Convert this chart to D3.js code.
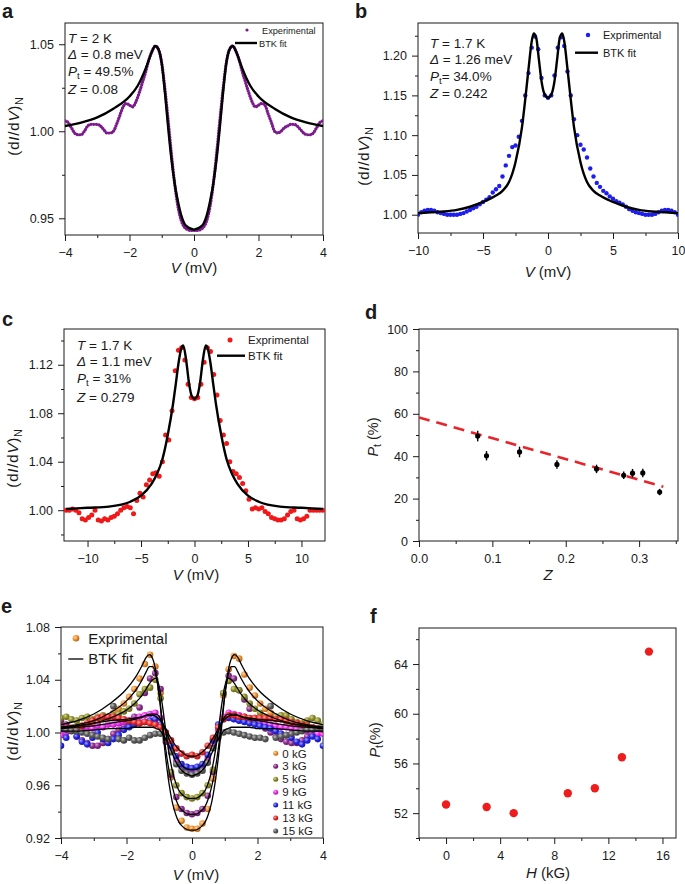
<!DOCTYPE html>
<html>
<head>
<meta charset="utf-8">
<script src="https://cdn.jsdelivr.net/npm/d3@7"></script>
<style>
  body { margin: 0; background: #fff; }
  svg text { font-family: "Liberation Sans", Arial, sans-serif; fill: #1a1a1a; }
</style>
</head>
<body>
<svg id="fig" width="685" height="884"></svg>
<script>
// ---------- data ----------
// panel a : V from -4 to 4, step 0.1
const aStart = -4, aStep = 0.1;
const aExp = [1.006,1.005,1.002,0.999,0.998,0.998,1.000,1.003,1.004,1.004,
  1.004,1.003,1.001,0.999,0.999,1.000,1.004,1.009,1.014,1.016,
  1.015,1.014,1.017,1.022,1.028,1.034,1.041,1.046,1.049,1.047,
  1.039,1.024,1.006,0.987,0.970,0.957,0.949,0.945,0.9435,0.943,
  0.943,
  0.943,0.9435,0.945,0.949,0.957,0.970,0.987,1.006,1.024,1.039,
  1.047,1.049,1.046,1.041,1.034,1.028,1.022,1.017,1.014,1.015,
  1.016,1.015,1.010,1.005,1.000,0.999,1.000,1.002,1.003,1.004,
  1.004,1.003,1.001,0.999,0.998,0.998,0.999,1.002,1.005,1.006];
const fitV4 = [-4,-3.5,-3,-2.5,-2,-1.75,-1.5,-1.4,-1.3,-1.2,-1.1,-1,-0.9,-0.8,-0.7,-0.6,-0.5,-0.4,-0.3,-0.2,-0.1,0,
  0.1,0.2,0.3,0.4,0.5,0.6,0.7,0.8,0.9,1,1.1,1.2,1.3,1.4,1.5,1.75,2,2.5,3,3.5,4];
const aFit = [1.003,1.005,1.008,1.013,1.020,1.026,1.036,1.041,1.046,1.049,1.047,1.039,1.022,1.002,0.984,0.970,0.960,0.952,0.947,0.945,0.944,
  0.9435,
  0.944,0.945,0.947,0.952,0.960,0.970,0.984,1.002,1.022,1.039,1.047,1.049,1.046,1.041,1.036,1.026,1.020,1.013,1.008,1.005,1.003];

// panel b : V from -10 to 10, step 0.25
const bStart = -10, bStep = 0.25;
const bExp = [1.000,1.003,1.005,1.006,1.006,1.005,1.003,1.002,1.001,1.000,
  1.000,1.000,1.000,1.001,1.002,1.004,1.006,1.008,1.010,1.013,
  1.016,1.019,1.022,1.028,1.032,1.036,1.048,1.062,1.074,1.085,
  1.087,1.098,1.118,1.150,1.178,1.210,1.224,1.208,1.172,1.150,
  1.147,
  1.150,1.175,1.210,1.223,1.212,1.180,1.150,1.120,1.100,1.088,
  1.082,1.072,1.058,1.048,1.040,1.035,1.030,1.027,1.023,1.020,
  1.017,1.015,1.013,1.010,1.007,1.005,1.003,1.002,1.001,1.000,
  1.000,1.000,1.001,1.003,1.005,1.006,1.006,1.005,1.003,1.000];
const bFitV = [-10,-9,-8,-7,-6,-5,-4,-3.5,-3,-2.5,-2,-1.75,-1.5,-1.25,-1.1,-0.9,-0.7,-0.5,-0.3,0,
  0.3,0.5,0.7,0.9,1.1,1.25,1.5,1.75,2,2.5,3,3.5,4,5,6,7,8,9,10];
const bFit = [1.002,1.003,1.004,1.006,1.010,1.016,1.024,1.030,1.041,1.066,1.110,1.145,1.183,1.218,1.228,1.222,1.195,1.168,1.153,
  1.147,
  1.153,1.168,1.195,1.222,1.228,1.218,1.183,1.145,1.110,1.066,1.041,1.030,1.024,1.016,1.010,1.006,1.004,1.003,1.002];

// panel c : V from -12 to 12, step 0.3
const cStart = -12, cStep = 0.3;
const cExp = [1.000,1.000,1.001,1.000,0.998,0.993,0.992,0.994,0.996,1.000,
  0.992,0.991,0.993,0.992,0.994,0.995,0.997,1.000,1.002,1.003,
  1.002,0.997,1.008,1.014,1.011,1.021,1.025,1.030,1.031,1.028,
  1.040,1.062,1.058,1.082,1.115,1.132,1.134,1.124,1.104,1.093,
  1.092,
  1.093,1.104,1.122,1.134,1.131,1.112,1.095,1.074,1.062,1.055,
  1.040,1.032,1.030,1.027,1.022,1.016,1.009,1.001,1.002,1.001,
  1.002,0.999,0.997,0.994,0.993,0.992,0.992,0.993,0.996,0.999,
  1.000,0.993,0.992,0.993,0.995,1.000,1.000,1.000,1.000,1.000];
const cFitV = [-12,-10,-8,-6,-5,-4,-3.5,-3,-2.5,-2,-1.75,-1.5,-1.25,-1.05,-0.8,-0.5,-0.25,0,
  0.25,0.5,0.8,1.05,1.25,1.5,1.75,2,2.5,3,3.5,4,5,6,8,10,12];
const cFit = [1.001,1.002,1.003,1.007,1.012,1.022,1.030,1.042,1.062,1.088,1.104,1.121,1.133,1.136,1.125,1.104,1.094,
  1.092,
  1.094,1.104,1.125,1.136,1.133,1.121,1.104,1.088,1.062,1.042,1.030,1.022,1.012,1.007,1.003,1.002,1.001];

// panel d
const dZ = [0.080, 0.092, 0.137, 0.188, 0.242, 0.279, 0.291, 0.305, 0.328];
const dP = [49.5, 40.2, 42.0, 36.1, 34.0, 31.0, 32.0, 32.1, 23.1];
const dErr = [2.5, 2.2, 2.5, 2.0, 2.0, 1.8, 2.0, 2.0, 1.5];
const dFitZ = [0, 0.333];
const dFitP = [58.3, 25.6];

// panel e : V from -4 to 4, step 0.16
const eStart = -4, eStep = 0.16;
const eFields = ["0 kG", "3 kG", "5 kG", "9 kG", "11 kG", "13 kG", "15 kG"];
const eColors = ["#f3922c", "#8e2a8e", "#8f8f22", "#ee2cee", "#2424ee", "#ee2424", "#5a5a5a"];
const e0 = [1.002,1.003,1.004,1.004,1.005,1.006,1.007,1.008,1.010,1.012,1.015,1.018,1.022,1.027,1.033,1.041,1.052,1.059,1.050,1.030,0.998,0.966,0.943,0.933,0.928,
  0.927,
  0.927,0.931,0.942,0.965,0.997,1.028,1.048,1.058,1.056,1.044,1.034,1.028,1.022,1.018,1.015,1.012,1.010,1.008,1.007,1.006,1.005,1.004,1.004,1.003,1.002];
const e3 = [1.009,1.006,1.002,0.997,0.994,0.992,0.990,0.990,0.992,0.995,0.999,1.002,1.005,1.008,1.012,1.019,1.030,1.041,1.045,1.033,0.993,0.968,0.951,0.942,0.939,
  0.938,
  0.939,0.942,0.952,0.970,0.996,1.030,1.043,1.041,1.032,1.025,1.018,1.011,1.006,1.003,1.000,0.997,0.995,0.993,0.992,0.992,0.994,0.997,1.000,1.003,1.002];
const e5 = [1.011,1.012,1.010,1.009,1.011,1.012,1.010,1.012,1.013,1.011,1.013,1.014,1.016,1.018,1.022,1.029,1.033,1.034,1.040,1.026,0.995,0.970,0.960,0.954,0.951,
  0.950,
  0.951,0.954,0.960,0.972,0.998,1.030,1.039,1.033,1.032,1.027,1.022,1.018,1.015,1.012,1.011,1.012,1.013,1.013,1.010,1.008,1.007,1.009,1.011,1.009,1.006];
const e9 = [0.998,1.000,1.002,1.001,1.003,1.004,1.003,1.005,1.004,1.006,1.006,1.007,1.008,1.009,1.010,1.012,1.013,1.014,1.015,1.011,1.000,0.988,0.979,0.974,0.972,
  0.972,
  0.972,0.974,0.980,0.990,1.002,1.012,1.015,1.014,1.013,1.012,1.010,1.009,1.008,1.007,1.006,1.005,1.004,1.004,1.003,1.002,1.002,1.001,1.000,0.999,0.999];
const e11 = [0.990,0.996,1.003,0.997,0.993,0.991,0.996,1.000,0.995,0.992,0.995,0.998,1.002,1.004,1.006,1.007,1.008,1.009,1.010,1.006,0.999,0.990,0.982,0.976,0.974,
  0.973,
  0.974,0.976,0.983,0.994,1.006,1.010,1.011,1.010,1.009,1.008,1.007,1.006,1.005,1.004,1.003,1.001,0.999,0.998,0.996,0.993,0.991,0.994,0.997,0.995,0.990];
const e13 = [1.004,1.003,1.002,1.003,1.005,1.007,1.009,1.011,1.012,1.012,1.012,1.011,1.010,1.009,1.008,1.007,1.008,1.007,1.006,1.004,1.000,0.994,0.988,0.984,0.982,
  0.983,
  0.982,0.985,0.990,0.996,1.004,1.010,1.013,1.013,1.012,1.012,1.011,1.011,1.011,1.011,1.011,1.010,1.010,1.009,1.008,1.007,1.006,1.005,1.004,1.003,1.002];
const e15 = [1.003,1.002,1.001,1.001,1.000,0.999,0.998,0.997,0.996,0.995,1.020,0.995,0.994,0.996,0.994,0.994,0.996,0.998,0.999,0.999,0.996,0.985,0.976,0.971,0.969,
  0.968,
  0.969,0.971,0.977,0.988,0.998,1.000,1.001,1.000,0.999,0.998,0.997,0.996,0.996,0.995,1.020,0.996,0.997,0.998,0.999,1.000,1.001,1.002,1.002,1.003,1.003];
const eFit0 = [1.006,1.009,1.014,1.022,1.033,1.041,1.052,1.057,1.059,1.056,1.046,1.028,1.003,0.980,0.961,0.947,0.938,0.932,0.929,0.927,0.926,
  0.926,
  0.926,0.927,0.929,0.932,0.938,0.947,0.961,0.980,1.003,1.028,1.046,1.056,1.059,1.057,1.052,1.041,1.033,1.022,1.014,1.009,1.006];
const eFit3 = [1.004,1.006,1.009,1.015,1.024,1.031,1.041,1.046,1.050,1.050,1.043,1.028,1.007,0.987,0.971,0.959,0.950,0.944,0.941,0.939,0.938,
  0.938,
  0.938,0.939,0.941,0.944,0.950,0.959,0.971,0.987,1.007,1.028,1.043,1.050,1.050,1.046,1.041,1.031,1.024,1.015,1.009,1.006,1.004];
const eFit5 = [1.003,1.005,1.007,1.011,1.017,1.022,1.029,1.033,1.037,1.040,1.041,1.035,1.020,1.001,0.984,0.971,0.962,0.956,0.953,0.951,0.950,
  0.950,
  0.950,0.951,0.953,0.956,0.962,0.971,0.984,1.001,1.020,1.035,1.041,1.040,1.037,1.033,1.029,1.022,1.017,1.011,1.007,1.005,1.003];
const eFit9 = [1.003,1.004,1.005,1.007,1.009,1.010,1.012,1.013,1.014,1.014,1.014,1.012,1.007,1.001,0.995,0.989,0.983,0.979,0.975,0.973,0.972,
  0.972,
  0.972,0.973,0.975,0.979,0.983,0.989,0.995,1.001,1.007,1.012,1.014,1.014,1.014,1.013,1.012,1.010,1.009,1.007,1.005,1.004,1.003];
const eFit13 = [1.004,1.005,1.007,1.009,1.010,1.011,1.012,1.013,1.013,1.013,1.012,1.010,1.007,1.003,0.998,0.994,0.990,0.987,0.985,0.983,0.982,
  0.982,
  0.982,0.983,0.985,0.987,0.990,0.994,0.998,1.003,1.007,1.010,1.012,1.013,1.013,1.013,1.012,1.011,1.010,1.009,1.007,1.005,1.004];
const eFit15 = [1.001,1.001,1.002,1.003,1.003,1.004,1.004,1.004,1.004,1.004,1.003,1.002,0.999,0.995,0.990,0.984,0.978,0.974,0.971,0.969,0.968,
  0.967,
  0.968,0.969,0.971,0.974,0.978,0.984,0.990,0.995,0.999,1.002,1.003,1.004,1.004,1.004,1.004,1.004,1.003,1.003,1.002,1.001,1.001];

// panel f
const fH = [0, 3, 5, 9, 11, 13, 15];
const fP = [52.7, 52.5, 52.0, 53.6, 54.0, 56.5, 65.0];

// ---------- drawing ----------
const svg = d3.select("#fig");
const defs = svg.append("defs");
const ink = "#1a1a1a";

// rich text: parts = [[text, "i" | "sub" | ""]]
function rich(sel, parts, size) {
  let low = false;
  parts.forEach(([t, s]) => {
    const ts = sel.append("tspan").text(t);
    if (s === "i") ts.attr("font-style", "italic");
    if (s === "sub") {
      ts.attr("font-size", size * 0.72).attr("dy", size * 0.24);
      low = true;
    } else if (low) {
      ts.attr("dy", -size * 0.24);
      low = false;
    }
  });
  return sel;
}

function label(x, y, parts, size, opts = {}) {
  const t = svg.append("text")
    .attr("x", x).attr("y", y)
    .attr("font-size", size)
    .attr("text-anchor", opts.anchor || "start");
  if (opts.rotate) t.attr("transform", `rotate(-90,${x},${y})`);
  if (opts.bold) t.attr("font-weight", "bold");
  if (opts.spacing) t.attr("letter-spacing", opts.spacing);
  return rich(t, parts, size);
}

function panel(box, xd, yd, ax) {
  const x = d3.scaleLinear().domain(xd).range([box.x0, box.x1]);
  const y = d3.scaleLinear().domain(yd).range([box.y1, box.y0]);
  const g = svg.append("g");

  g.append("g").attr("transform", `translate(0,${box.y1})`)
    .call(d3.axisBottom(x).tickValues(ax.xt).tickFormat(ax.xf).tickSize(6).tickSizeOuter(0).tickPadding(7));
  g.append("g").attr("transform", `translate(0,${box.y1})`)
    .call(d3.axisBottom(x).tickValues(ax.xm).tickFormat("").tickSize(3).tickSizeOuter(0));
  g.append("g").attr("transform", `translate(${box.x0},0)`)
    .call(d3.axisLeft(y).tickValues(ax.yt).tickFormat(ax.yf).tickSize(6).tickSizeOuter(0).tickPadding(5));
  g.append("g").attr("transform", `translate(${box.x0},0)`)
    .call(d3.axisLeft(y).tickValues(ax.ym).tickFormat("").tickSize(3).tickSizeOuter(0));

  g.selectAll(".domain").remove();
  g.selectAll(".tick line").attr("stroke", ink).attr("stroke-width", 1);
  g.selectAll(".tick text").attr("font-size", 12.5).attr("fill", ink)
    .attr("font-family", '"Liberation Sans", Arial, sans-serif');

  g.append("rect")
    .attr("x", box.x0).attr("y", box.y0)
    .attr("width", box.x1 - box.x0).attr("height", box.y1 - box.y0)
    .attr("fill", "none").attr("stroke", ink).attr("stroke-width", 1);

  const id = "clip" + Math.round(box.x0) + "_" + Math.round(box.y0);
  defs.append("clipPath").attr("id", id).append("rect")
    .attr("x", box.x0).attr("y", box.y0)
    .attr("width", box.x1 - box.x0).attr("height", box.y1 - box.y0);
  const plot = svg.append("g").attr("clip-path", `url(#${id})`);
  return { x, y, plot };
}

const pts = (start, step, vals) => vals.map((v, i) => [start + i * step, v]);
const zipXY = (xs, ys) => xs.map((v, i) => [v, ys[i]]);

function fitLine(p, data, w) {
  p.plot.append("path")
    .datum(data)
    .attr("fill", "none").attr("stroke", "#000").attr("stroke-width", w)
    .attr("d", d3.line().x(d => p.x(d[0])).y(d => p.y(d[1])).curve(d3.curveMonotoneX));
}

const fmt2 = d3.format(".2f");
const fmtInt = d3.format("d");

const yLab = [["(d", ""], ["I", "i"], ["/d", ""], ["V", "i"], [")", ""], ["N", "sub"]];
const vLab = [["V", "i"], [" (mV)", ""]];
const yOpt = { anchor: "middle", rotate: true, spacing: 0.8 };
const ANN = 13.5, TITLE = 15;

// ===== panel a =====
const pa = panel({ x0: 65, x1: 323, y0: 23, y1: 235 }, [-4, 4], [0.9404, 1.0622], {
  xt: [-4, -2, 0, 2, 4], xm: [-3, -1, 1, 3], xf: fmtInt,
  yt: [0.95, 1.0, 1.05], ym: [0.975, 1.025], yf: fmt2
});
pa.plot.append("path")
  .datum(pts(aStart, aStep, aExp))
  .attr("fill", "none").attr("stroke", "#7b1b8c").attr("stroke-width", 3.2)
  .attr("stroke-linecap", "round").attr("stroke-dasharray", "0.1 2.6")
  .attr("d", d3.line().x(d => pa.x(d[0])).y(d => pa.y(d[1])).curve(d3.curveMonotoneX));
fitLine(pa, zipXY(fitV4, aFit), 2.4);

label(68, 42.5, [["T", "i"], [" = 2 K", ""]], ANN);
label(68, 59.3, [["Δ", "i"], [" = 0.8 meV", ""]], ANN);
label(68, 76, [["P", "i"], ["t", "sub"], [" = 49.5%", ""]], ANN);
label(68, 93.5, [["Z", "i"], [" = 0.08", ""]], ANN);
svg.append("circle").attr("cx", 247).attr("cy", 30).attr("r", 1.6).attr("fill", "#7b1b8c");
label(262, 33.5, [["Experimental", ""]], 9.2);
svg.append("line").attr("x1", 235).attr("x2", 257).attr("y1", 43).attr("y2", 43)
  .attr("stroke", "#000").attr("stroke-width", 2.4);
label(259, 46.5, [["BTK fit", ""]], 9.2);
label(19, 126, yLab, TITLE, yOpt);
label(194, 273, vLab, TITLE, { anchor: "middle" });

// ===== panel b =====
const pb = panel({ x0: 418, x1: 678, y0: 23, y1: 233 }, [-10, 10], [0.977, 1.241], {
  xt: [-10, -5, 0, 5, 10], xm: [-7.5, -2.5, 2.5, 7.5], xf: fmtInt,
  yt: [1.0, 1.05, 1.1, 1.15, 1.2], ym: [1.025, 1.075, 1.125, 1.175, 1.225], yf: fmt2
});
pb.plot.selectAll("circle.b")
  .data(pts(bStart, bStep, bExp))
  .join("circle").attr("class", "b")
  .attr("cx", d => pb.x(d[0])).attr("cy", d => pb.y(d[1]))
  .attr("r", 2.2).attr("fill", "#1d1ded");
fitLine(pb, zipXY(bFitV, bFit), 2.4);

label(430, 47.7, [["T", "i"], [" = 1.7 K", ""]], ANN);
label(430, 64.3, [["Δ", "i"], [" = 1.26 meV", ""]], ANN);
label(430, 80.5, [["P", "i"], ["t", "sub"], ["= 34.0%", ""]], ANN);
label(430, 97.5, [["Z", "i"], [" = 0.242", ""]], ANN);
svg.append("circle").attr("cx", 588).attr("cy", 35).attr("r", 2.2).attr("fill", "#1d1ded");
label(603, 39, [["Exprimental", ""]], 11);
svg.append("line").attr("x1", 575).attr("x2", 598).attr("y1", 52.7).attr("y2", 52.7)
  .attr("stroke", "#000").attr("stroke-width", 2.4);
label(603, 56.5, [["BTK fit", ""]], 11);
label(369, 156, yLab, TITLE, yOpt);
label(548, 277, vLab, TITLE, { anchor: "middle" });

// ===== panel c =====
const pc = panel({ x0: 64, x1: 325, y0: 329, y1: 541 }, [-12.2, 12.2], [0.9746, 1.1495], {
  xt: [-10, -5, 0, 5, 10], xm: [-7.5, -2.5, 2.5, 7.5], xf: fmtInt,
  yt: [1.0, 1.04, 1.08, 1.12], ym: [0.98, 1.02, 1.06, 1.1, 1.14], yf: fmt2
});
pc.plot.selectAll("circle.c")
  .data(pts(cStart, cStep, cExp))
  .join("circle").attr("class", "c")
  .attr("cx", d => pc.x(d[0])).attr("cy", d => pc.y(d[1]))
  .attr("r", 2.5).attr("fill", "#f01818");
fitLine(pc, zipXY(cFitV, cFit), 2.4);

label(77, 349.5, [["T", "i"], [" = 1.7 K", ""]], ANN);
label(77, 366.3, [["Δ", "i"], [" = 1.1 meV", ""]], ANN);
label(77, 383, [["P", "i"], ["t", "sub"], [" = 31%", ""]], ANN);
label(77, 401.5, [["Z", "i"], [" =  0.279", ""]], ANN);
svg.append("circle").attr("cx", 230).attr("cy", 340).attr("r", 2.5).attr("fill", "#f01818");
label(248, 344, [["Exprimental", ""]], 11.5);
svg.append("line").attr("x1", 217).attr("x2", 245).attr("y1", 355.7).attr("y2", 355.7)
  .attr("stroke", "#000").attr("stroke-width", 2.4);
label(248, 360, [["BTK fit", ""]], 11.5);
label(18, 458, yLab, TITLE, yOpt);
label(196, 580, vLab, TITLE, { anchor: "middle" });

// ===== panel d =====
const pd = panel({ x0: 419, x1: 678, y0: 329, y1: 541 }, [0, 0.353], [0, 100], {
  xt: [0, 0.1, 0.2, 0.3], xm: [0.05, 0.15, 0.25, 0.35], xf: d3.format(".1f"),
  yt: [0, 20, 40, 60, 80, 100], ym: [10, 30, 50, 70, 90], yf: fmtInt
});
pd.plot.append("path")
  .datum(zipXY(dFitZ, dFitP))
  .attr("fill", "none").attr("stroke", "#e8242a").attr("stroke-width", 2.6)
  .attr("stroke-dasharray", "11 7")
  .attr("d", d3.line().x(d => pd.x(d[0])).y(d => pd.y(d[1])));
const dPts = dZ.map((z, i) => ({ z, p: dP[i], e: dErr[i] }));
pd.plot.selectAll("line.err").data(dPts).join("line").attr("class", "err")
  .attr("x1", d => pd.x(d.z)).attr("x2", d => pd.x(d.z))
  .attr("y1", d => pd.y(d.p - d.e)).attr("y2", d => pd.y(d.p + d.e))
  .attr("stroke", "#000").attr("stroke-width", 1.4);
pd.plot.selectAll("circle.d").data(dPts).join("circle").attr("class", "d")
  .attr("cx", d => pd.x(d.z)).attr("cy", d => pd.y(d.p))
  .attr("r", 2.6).attr("fill", "#000");
label(378, 437, [["P", "i"], ["t", "sub"], [" (%)", ""]], 14.5, { anchor: "middle", rotate: true });
label(548, 580, [["Z", "i"]], TITLE, { anchor: "middle" });

// ===== panel e =====
const pe = panel({ x0: 61, x1: 323, y0: 627, y1: 838 }, [-4, 4], [0.92, 1.08], {
  xt: [-4, -2, 0, 2, 4], xm: [-3, -1, 1, 3], xf: fmtInt,
  yt: [0.92, 0.96, 1.0, 1.04, 1.08], ym: [0.94, 0.98, 1.02, 1.06], yf: fmt2
});
eColors.forEach((c, i) => {
  const gr = defs.append("radialGradient").attr("id", "ball" + i)
    .attr("cx", "35%").attr("cy", "35%").attr("r", "65%");
  gr.append("stop").attr("offset", "0%").attr("stop-color", d3.interpolateRgb(c, "#fff")(0.6));
  gr.append("stop").attr("offset", "55%").attr("stop-color", c);
  gr.append("stop").attr("offset", "100%").attr("stop-color", d3.interpolateRgb(c, "#000")(0.3));
});
const eSeries = [e0, e3, e5, e9, e11, e13, e15];
eSeries.forEach((vals, i) => {
  pe.plot.selectAll("circle.e" + i)
    .data(pts(eStart, eStep, vals))
    .join("circle").attr("class", "e" + i)
    .attr("cx", d => pe.x(d[0])).attr("cy", d => pe.y(d[1]))
    .attr("r", 3.3).attr("fill", `url(#ball${i})`);
});
[eFit0, eFit3, eFit5, eFit9, eFit13, eFit15].forEach(f => fitLine(pe, zipXY(fitV4, f), 1.3));

svg.append("circle").attr("cx", 76).attr("cy", 638.3).attr("r", 3.3).attr("fill", "url(#ball0)");
label(88.3, 643.5, [["Exprimental", ""]], 15);
svg.append("line").attr("x1", 68.3).attr("x2", 83.3).attr("y1", 659).attr("y2", 659)
  .attr("stroke", "#000").attr("stroke-width", 1.3);
label(88.3, 664, [["BTK fit", ""]], 15);
eFields.forEach((f, i) => {
  const cy = 753.3 + i * 12.95;
  svg.append("circle").attr("cx", 275.7).attr("cy", cy).attr("r", 2.5).attr("fill", `url(#ball${i})`);
  label(282.3, cy + 4.2, [[f, ""]], 11.5);
});
label(18, 731, yLab, TITLE, yOpt);
label(196, 880, vLab, TITLE, { anchor: "middle" });

// ===== panel f =====
const pf = panel({ x0: 419, x1: 676, y0: 628, y1: 838 }, [-2, 17], [50, 66.9], {
  xt: [0, 4, 8, 12, 16], xm: [-2, 2, 6, 10, 14], xf: fmtInt,
  yt: [52, 56, 60, 64], ym: [50, 54, 58, 62, 66], yf: fmtInt
});
pf.plot.selectAll("circle.f")
  .data(zipXY(fH, fP))
  .join("circle").attr("class", "f")
  .attr("cx", d => pf.x(d[0])).attr("cy", d => pf.y(d[1]))
  .attr("r", 4.2).attr("fill", "#ee1c1c");
label(380, 740, [["P", "i"], ["t", "sub"], ["(%)", ""]], 14.5, { anchor: "middle", rotate: true });
label(548, 878, [["H", "i"], [" (kG)", ""]], TITLE, { anchor: "middle" });

// ===== panel letters =====
[["a", 2, 18], ["b", 355, 18], ["c", 2, 326], ["d", 365, 319], ["e", 1, 613], ["f", 370, 623]]
  .forEach(([t, x, y]) => label(x, y, [[t, ""]], 20, { bold: true }));
</script>
</body>
</html>
